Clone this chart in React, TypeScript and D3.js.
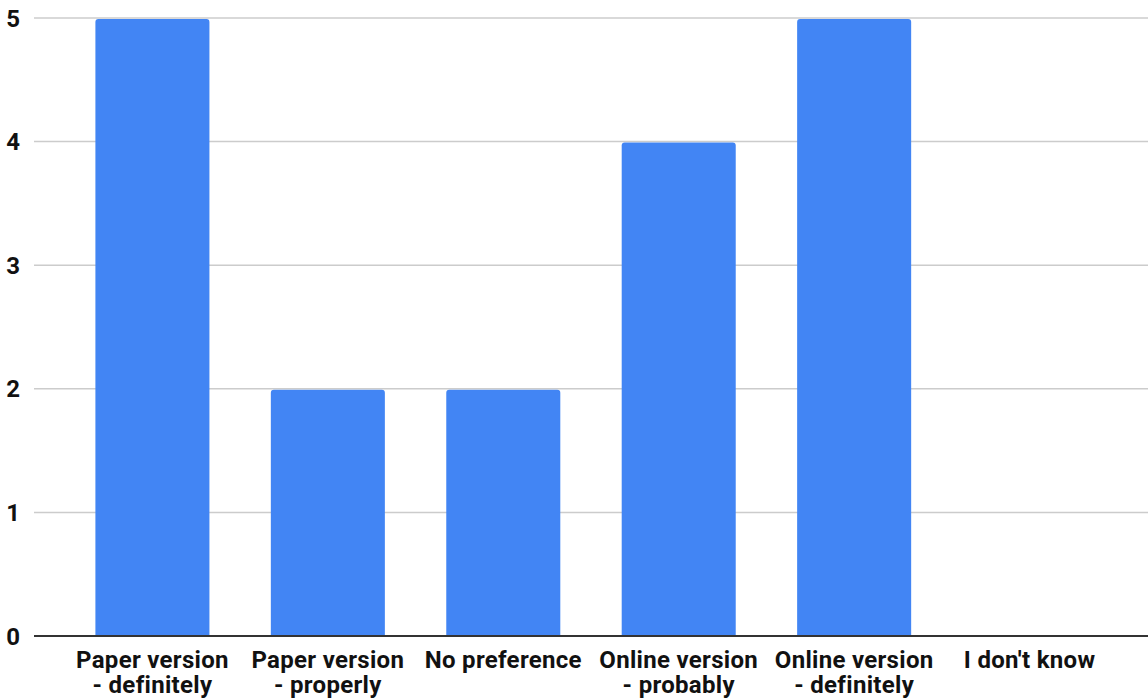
import React from "react";
import * as d3 from "d3";

const categories: string[][] = [
  ["Paper version", "- definitely"],
  ["Paper version", "- properly"],
  ["No preference"],
  ["Online version", "- probably"],
  ["Online version", "- definitely"],
  ["I don't know"],
];
const counts: number[] = [5, 2, 2, 4, 5, 0];
const yTicks: number[] = [0, 1, 2, 3, 4, 5];

const W = 1148;
const H = 699;
const FONT = "Roboto, 'Noto Sans', sans-serif";

function topRoundedBar(x: number, y: number, w: number, h: number, r: number): string {
  if (h <= 0) return "";
  const rr = Math.min(r, h, w / 2);
  return `M${x},${y + h}V${y + rr}Q${x},${y} ${x + rr},${y}H${x + w - rr}Q${x + w},${y} ${x + w},${y + rr}V${y + h}Z`;
}

export default function App() {
  const keys = categories.map((_, i) => String(i));
  const x = d3.scaleBand<string>().domain(keys).range([34, W]).paddingInner(0.35).paddingOuter(0.35);
  const y = d3.scaleLinear().domain([0, 5]).range([636, 18]);

  return (
    <svg
      width={W}
      height={H}
      style={{ position: "absolute", left: 0, top: 0, background: "#fff" }}
      fontFamily={FONT}
    >
      {yTicks.filter((t) => t > 0).map((t) => (
        <line key={"g" + t} x1={34} x2={W} y1={y(t)} y2={y(t)} stroke="#cccccc" strokeWidth={1.5} />
      ))}
      {yTicks.map((t) => (
        <text
          key={"yl" + t}
          x={20}
          y={y(t)}
          dy="0.36em"
          textAnchor="end"
          fontSize={24}
          fontWeight="bold"
          fill="#111"
        >
          {t}
        </text>
      ))}
      {counts.map((v, i) => (
        <path
          key={"b" + i}
          d={topRoundedBar(x(String(i))!, y(v) + 1, x.bandwidth(), y(0) - y(v) - 1, 3)}
          fill="#4285f4"
        />
      ))}
      <line x1={34} x2={W} y1={y(0)} y2={y(0)} stroke="#333" strokeWidth={2} />
      {categories.map((lines, i) =>
        lines.map((l, j) => (
          <text
            key={"xl" + i + "-" + j}
            x={x(String(i))! + x.bandwidth() / 2}
            y={668 + j * 25}
            textAnchor="middle"
            fontSize={24}
            fontWeight="bold"
            letterSpacing={0.3}
            fill="#111"
          >
            {l}
          </text>
        ))
      )}
    </svg>
  );
}
